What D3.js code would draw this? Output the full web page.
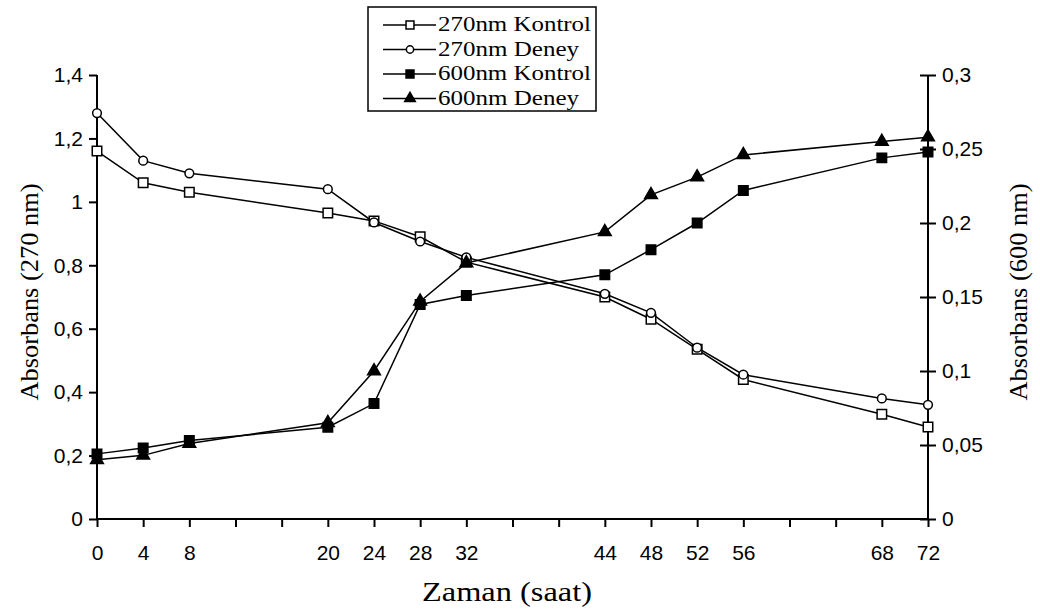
<!DOCTYPE html>
<html>
<head>
<meta charset="utf-8">
<script src="https://cdn.jsdelivr.net/npm/d3@7"></script>
<style>
  body { margin: 0; background: #fff; }
  svg { display: block; font-family: "Liberation Serif", "DejaVu Serif", serif; }
  .axis path, .axis line { stroke: #000; stroke-width: 2; }
  .axis text { font-size: 21px; fill: #000; }
  .series { fill: none; stroke: #000; stroke-width: 1.5; }
</style>
</head>
<body>
<div id="chart"></div>
<script>
// hours
var hours = [0, 4, 8, 20, 24, 28, 32, 44, 48, 52, 56, 68, 72];

// 270 nm values (left axis)
var kontrol270 = [1.16, 1.06, 1.03, 0.965, 0.94, 0.89, 0.81, 0.70, 0.63, 0.535, 0.44, 0.33, 0.29];
var deney270   = [1.28, 1.13, 1.09, 1.04, 0.935, 0.875, 0.825, 0.71, 0.65, 0.54, 0.455, 0.38, 0.36];

// 600 nm values (right axis)
var kontrol600 = [0.044, 0.048, 0.053, 0.062, 0.078, 0.145, 0.151, 0.165, 0.182, 0.200, 0.222, 0.244, 0.248];
var deney600   = [0.040, 0.043, 0.051, 0.065, 0.100, 0.147, 0.173, 0.194, 0.219, 0.231, 0.246, 0.255, 0.258];

var leftTicks = [0, 0.2, 0.4, 0.6, 0.8, 1, 1.2, 1.4];
var rightTicks = [0, 0.05, 0.1, 0.15, 0.2, 0.25, 0.3];
var legendNames = ["270nm Kontrol", "270nm Deney", "600nm Kontrol", "600nm Deney"];

function init() {
    var w = 1040, h = 613;
    var left = 97, right = 928, top = 75, bottom = 519;

    var svg = d3.select("#chart").append("svg")
        .attr("width", w)
        .attr("height", h);

    var xScale = d3.scaleLinear().domain([0, 72]).range([left, right]);
    var yLeft = d3.scaleLinear().domain([0, 1.4]).range([bottom, top]);
    var yRight = d3.scaleLinear().domain([0, 0.3]).range([bottom, top]);

    var fmt = function(d) { return String(+d.toFixed(2)).replace(".", ","); };

    // x axis: ticks every 4 hours, labels only at the sampled hours
    var xAxis = d3.axisBottom(xScale)
        .tickValues(d3.range(0, 73, 4))
        .tickSize(8)
        .tickSizeOuter(0)
        .tickFormat(function(d) { return hours.indexOf(d) >= 0 ? d : ""; });
    var gx = svg.append("g")
        .attr("class", "axis")
        .attr("transform", "translate(0," + bottom + ")")
        .call(xAxis);
    gx.selectAll("text").attr("dy", "0").attr("y", 41);

    var gl = svg.append("g")
        .attr("class", "axis")
        .attr("transform", "translate(" + left + ",0)")
        .call(d3.axisLeft(yLeft).tickValues(leftTicks).tickFormat(fmt).tickSize(8).tickSizeOuter(0).tickPadding(6));

    var gr = svg.append("g")
        .attr("class", "axis")
        .attr("transform", "translate(" + right + ",0)")
        .call(d3.axisRight(yRight).tickValues(rightTicks).tickFormat(fmt).tickSize(8).tickSizeOuter(0).tickPadding(6));
    // right ticks cross the axis
    gr.selectAll(".tick line").attr("x1", -8);
    gr.select(".domain").attr("d", "M0," + top + "V" + bottom);
    gl.select(".domain").attr("d", "M0," + top + "V" + bottom);
    gx.select(".domain").attr("d", "M" + left + ",0H" + right);

    // axis titles
    svg.append("text")
        .attr("x", 507)
        .attr("y", 601)
        .attr("text-anchor", "middle")
        .style("font-size", "27px")
        .attr("textLength", 170)
        .attr("lengthAdjust", "spacingAndGlyphs")
        .text("Zaman (saat)");
    svg.append("text")
        .attr("transform", "translate(38,292) rotate(-90)")
        .attr("text-anchor", "middle")
        .style("font-size", "26px")
        .attr("textLength", 217)
        .attr("lengthAdjust", "spacingAndGlyphs")
        .text("Absorbans (270 nm)");
    svg.append("text")
        .attr("transform", "translate(1027,292) rotate(-90)")
        .attr("text-anchor", "middle")
        .style("font-size", "26px")
        .attr("textLength", 217)
        .attr("lengthAdjust", "spacingAndGlyphs")
        .text("Absorbans (600 nm)");

    var series = [
        { values: kontrol270, y: yLeft, marker: "square", fill: "#fff" },
        { values: deney270, y: yLeft, marker: "circle", fill: "#fff" },
        { values: kontrol600, y: yRight, marker: "square", fill: "#000" },
        { values: deney600, y: yRight, marker: "triangle", fill: "#000" }
    ];

    var symbolSize = { square: 90, circle: 60, triangle: 70 };
    var symbolType = { square: d3.symbolSquare, circle: d3.symbolCircle, triangle: d3.symbolTriangle };

    series.forEach(function(s) {
        var line = d3.line()
            .x(function(d, i) { return xScale(hours[i]); })
            .y(function(d) { return s.y(d); });
        svg.append("path")
            .datum(s.values)
            .attr("class", "series")
            .attr("d", line);
    });

    series.forEach(function(s) {
        svg.selectAll(null)
            .data(s.values)
            .enter().append("path")
            .attr("transform", function(d, i) { return "translate(" + xScale(hours[i]) + "," + s.y(d) + ")"; })
            .attr("d", d3.symbol().type(symbolType[s.marker]).size(symbolSize[s.marker]))
            .attr("fill", s.fill)
            .attr("stroke", "#000")
            .attr("stroke-width", 1.5);
    });

    // legend
    var lg = svg.append("g").attr("transform", "translate(368,7)");
    lg.append("rect")
        .attr("width", 228).attr("height", 104)
        .attr("fill", "#fff").attr("stroke", "#000").attr("stroke-width", 1.5);
    series.forEach(function(s, i) {
        var yy = 18 + i * 24.5;
        lg.append("line")
            .attr("x1", 15).attr("x2", 68).attr("y1", yy).attr("y2", yy)
            .attr("stroke", "#000").attr("stroke-width", 1.5);
        lg.append("path")
            .attr("transform", "translate(42," + yy + ")")
            .attr("d", d3.symbol().type(symbolType[s.marker]).size(symbolSize[s.marker] * 0.7))
            .attr("fill", s.fill).attr("stroke", "#000").attr("stroke-width", 1.5);
        lg.append("text")
            .attr("x", 70).attr("y", yy + 6)
            .style("font-size", "20px")
            .attr("textLength", i % 2 === 0 ? 153 : 141)
            .attr("lengthAdjust", "spacingAndGlyphs")
            .text(legendNames[i]);
    });
}
window.onload = init;
</script>
</body>
</html>
